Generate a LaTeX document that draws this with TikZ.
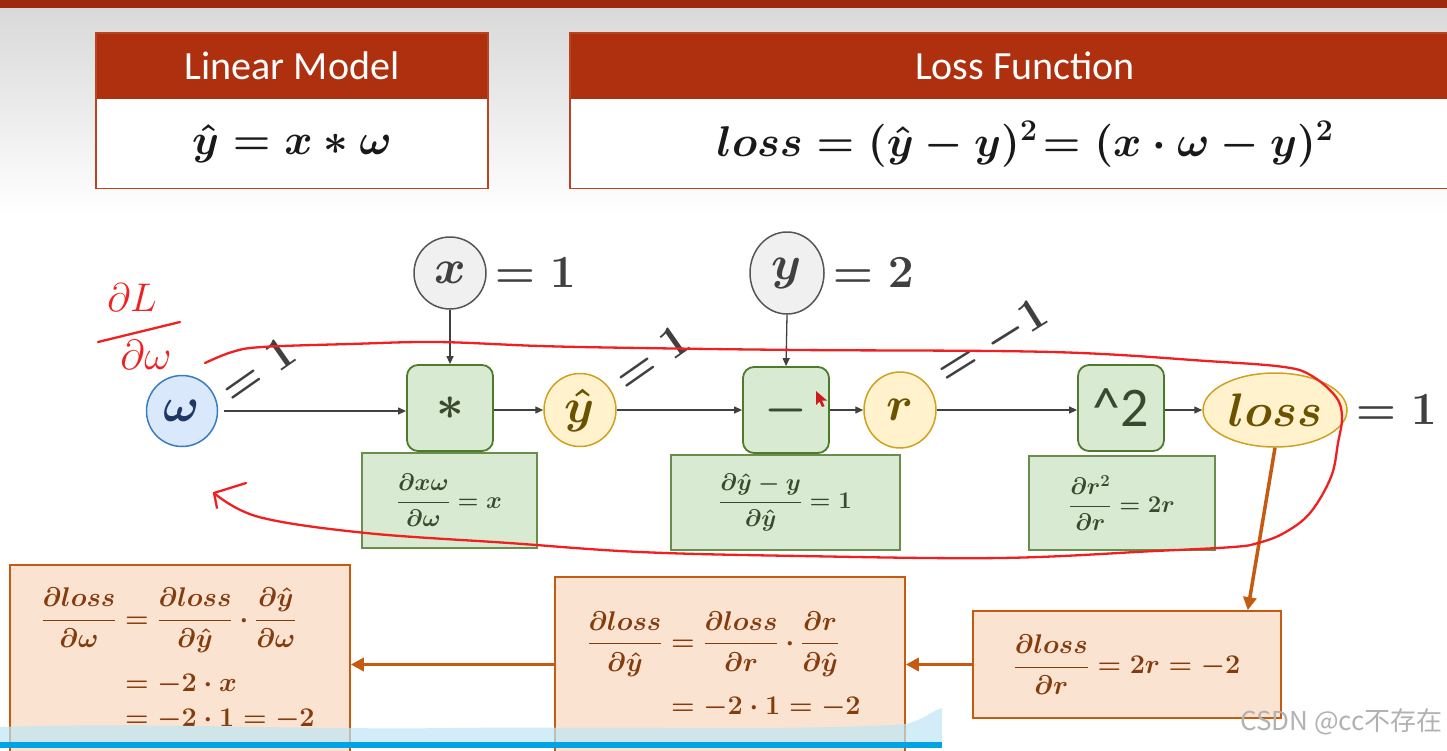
\RequirePackage{fix-cm}
\documentclass[tikz,border=0pt]{standalone}
\usepackage{amsmath}
\usepackage{fontspec}
\newfontfamily\carlito{Carlito}
\newfontfamily\cjk{Noto Sans CJK SC}
\usetikzlibrary{arrows.meta,shapes.geometric,calc}
\definecolor{topbar}{HTML}{9C2A0C}
\definecolor{hdr}{HTML}{AE300F}
\definecolor{hdrborder}{HTML}{B8451F}
\definecolor{gfill}{HTML}{D9EAD3}
\definecolor{gborder}{HTML}{4F7A2C}
\definecolor{gtext}{HTML}{3A4A30}
\definecolor{ofill}{HTML}{FBE3D2}
\definecolor{oborder}{HTML}{C55A11}
\definecolor{otext}{HTML}{843C0C}
\definecolor{yfill}{HTML}{FFF2CC}
\definecolor{yborder}{HTML}{D0A020}
\definecolor{ytext}{HTML}{6B5200}
\definecolor{bfill}{HTML}{DAE8FC}
\definecolor{bborder}{HTML}{3A7CC2}
\definecolor{btext}{HTML}{1F3864}
\definecolor{cfill}{HTML}{F0F0F0}
\definecolor{cborder}{HTML}{555555}
\definecolor{ink}{HTML}{404040}
\definecolor{pen}{HTML}{F02020}
\definecolor{pbar}{HTML}{00A4E4}
\definecolor{pband}{HTML}{BFE6F5}
\tikzset{
  hdrbox/.style={rectangle, fill=hdr, text=white, inner sep=0pt,
    font=\carlito\fontsize{40}{42}\selectfont},
  bodybox/.style={rectangle, fill=white, inner sep=0pt, text=black!90,
    font=\fontsize{43}{46}\selectfont\boldmath},
  cnode/.style={circle, draw=cborder, fill=cfill, line width=1.5pt, inner sep=0pt,
    minimum size=72pt, text=ink, font=\fontsize{48}{50}\selectfont\boldmath},
  bnode/.style={circle, draw=bborder, fill=bfill, line width=1.5pt, inner sep=0pt,
    minimum size=71pt, text=btext, font=\fontsize{48}{50}\selectfont\boldmath},
  ynode/.style={ellipse, draw=yborder, fill=yfill, line width=1.5pt, inner sep=0pt,
    text=ytext, font=\fontsize{48}{50}\selectfont\boldmath},
  opbox/.style={rectangle, rounded corners=11pt, draw=gborder, fill=gfill, line width=1.8pt,
    minimum width=86pt, minimum height=86pt, inner sep=0pt, text=gtext,
    font=\fontsize{48}{50}\selectfont\boldmath},
  dbox/.style={rectangle, draw=gborder!85, fill=gfill, line width=1.4pt, inner sep=0pt,
    text=gtext, font=\fontsize{24}{28}\selectfont\boldmath},
  obox/.style={rectangle, draw=oborder, fill=ofill, line width=1.6pt, inner sep=0pt,
    text=otext, font=\fontsize{27}{32}\selectfont\boldmath},
  otxt/.style={inner sep=0pt, text=otext, font=\fontsize{27}{32}\selectfont\boldmath},
  val/.style={inner sep=0pt, text=ink, font=\fontsize{46}{48}\selectfont\boldmath},
  flow/.style={draw=ink, line width=1.3pt, -{Triangle[length=8pt,width=7pt]}},
  back/.style={draw=oborder, line width=3.5pt, -{Triangle[length=13pt,width=13pt]}},
  penline/.style={draw=pen, line width=2.3pt, line cap=round, line join=round},
}
\begin{document}
\begin{tikzpicture}[x=1pt,y=-1pt]
\useasboundingbox (0,0) rectangle (1447,750);
\fill[white] (0,0) rectangle (1447,750);
\shade[top color=gray!30, bottom color=white] (0,8) rectangle (1447,215);
\fill[topbar] (0,0) rectangle (1447,8);

% header boxes
\node[hdrbox, minimum width=392pt, minimum height=66pt] (lmh) at (292,66) {Linear Model};
\node[bodybox, minimum width=392pt, minimum height=89pt, anchor=north] (lmb) at (lmh.south) {$\hat{y} = x \ast \omega$};
\draw[hdrborder, line width=1.5pt] (lmh.north west) rectangle (lmb.south east);

\node[hdrbox, minimum width=910pt, minimum height=66pt] (lfh) at (1025,66) {Loss Function};
\node[bodybox, minimum width=910pt, minimum height=89pt, anchor=north] (lfb) at (lfh.south) {$loss = (\hat{y} - y)^2\!= (x \cdot \omega - y)^2$};
\draw[hdrborder, line width=1.5pt] (lfh.north west) rectangle (lfb.south east);

% computation graph
\node[bnode] (w) at (182,411) {$\omega$};
\node[cnode] (x) at (450,273) {$x$};
\node[val, anchor=west] (xv) at ([xshift=8pt]x.east) {$=1$};
\node[ynode, minimum width=74pt, minimum height=82pt, draw=cborder, fill=cfill, text=ink] (y) at (787,273) {$y$};
\node[val, anchor=west] (yv) at ([xshift=8pt]y.east) {$=2$};
\node[opbox] (mul) at (450,408) {$\ast$};
\node[ynode, minimum width=72pt, minimum height=73pt] (yh) at (580,410) {$\hat{y}$};
\node[opbox] (sub) at (786,410) {$-$};
\node[ynode, minimum width=72pt, minimum height=76pt] (r) at (900,410) {$r$};
\node[opbox, font=\carlito\fontsize{56}{58}\selectfont] (sq) at (1121,408) {\textasciicircum 2};
\node[ynode, minimum width=144pt, minimum height=74pt, font=\fontsize{47}{49}\selectfont\boldmath] (loss) at (1275,410) {$loss$};
\node[val, anchor=west] (lossv) at ([xshift=8pt]loss.east) {$=1$};

\node[val, rotate=35] (wv) at (258,370) {$=1$};
\node[val, rotate=35] (yhv) at (652,358) {$=1$};
\node[val, rotate=32] (rv) at (993,343) {$=-1$};

\node[dbox, minimum width=175pt, minimum height=95pt] (d1) at (449.5,500.5) {$\dfrac{\partial x\omega}{\partial\omega} = x$};
\node[dbox, minimum width=229pt, minimum height=95pt] (d2) at (785.5,502.5) {$\dfrac{\partial \hat{y} - y}{\partial\hat{y}} = 1$};
\node[dbox, minimum width=186pt, minimum height=94pt] (d3) at (1122,503) {$\dfrac{\partial r^2}{\partial r} = 2r$};

\draw[flow, shorten <=6pt] (w.east) -- (mul.west |- w.east);
\draw[flow] (mul.east |- yh.west) -- (yh.west);
\draw[flow] (yh.east) -- (sub.west |- yh.east);
\draw[flow] (sub.east |- r.west) -- (r.west);
\draw[flow] (r.east) -- (sq.west |- r.east);
\draw[flow] (sq.east |- loss.west) -- (loss.west);
\draw[flow] (x.south) -- (mul.north);
\draw[flow] (y.south) -- (sub.north);

% backward boxes
\node[obox, minimum width=308pt, minimum height=107pt] (b1) at (1127,664.5) {$\dfrac{\partial loss}{\partial r} = 2r = -2$};
\node[obox, minimum width=350pt, minimum height=183pt] (b2) at (730,668.5) {};
\node[otxt] (t2) at (724,668) {$\begin{aligned}\dfrac{\partial loss}{\partial\hat{y}} &= \dfrac{\partial loss}{\partial r}\cdot\dfrac{\partial r}{\partial\hat{y}}\\[12pt] &= -2\cdot 1 = -2\end{aligned}$};
\node[obox, minimum width=340pt, minimum height=195pt] (b3) at (180,662.5) {};
\node[otxt] (t3) at (178,662) {$\begin{aligned}\dfrac{\partial loss}{\partial\omega} &= \dfrac{\partial loss}{\partial\hat{y}}\cdot\dfrac{\partial\hat{y}}{\partial\omega}\\[12pt] &= -2\cdot x\\[0pt] &= -2\cdot 1 = -2\end{aligned}$};

\coordinate (b1in) at ($(b1.north west)!0.89!(b1.north east)$);
\draw[back] (loss.south) -- (b1in);
\draw[back] (b1.west) -- (b1.west -| b2.east);
\draw[back] (b2.west |- b1.west) -- (b3.east |- b1.west);

% handwritten annotations
\draw[penline] plot[smooth, tension=0.6] coordinates {(205,363) (232,352) (262,347) (350,344) (437,342) (540,346) (640,348) (800,350) (1052,352) (1207,361) (1284,367) (1312,376) (1336,397) (1342,417) (1338,443) (1331,477) (1310,513) (1284,533) (1258,543) (1233,547) (1155,551) (1000,558) (800,556) (640,552) (509,543) (366,533) (259,517) (214,493)};
\draw[penline] (246,483) -- (214,493) -- (217,508);
\node[inner sep=0pt, text=pen, font=\fontsize{40}{42}\selectfont] (hL) at (132,298) {$\partial L$};
\draw[penline] (98,342) -- (180,322);
\node[inner sep=0pt, text=pen, font=\fontsize{42}{44}\selectfont] (hw) at (146,355) {$\partial\omega$};
% mouse pointer
\fill[pen!85!black] (816,391) -- (816,405) -- (819.5,401.5) -- (822,407) -- (824.5,406) -- (822,400.5) -- (827,400.5) -- cycle;

% player overlay
\fill[pband, opacity=0.7] (0,742) -- (0,727) .. controls (150,722) and (300,730) .. (450,728) .. controls (650,726) and (800,731) .. (905,724) .. controls (925,720) and (932,710) .. (942,708) -- (942,742) -- cycle;
\fill[pbar] (0,742) rectangle (942,748);
\node[inner sep=0pt, text=gray!60, font=\cjk\fontsize{26}{28}\selectfont, anchor=east] (wm) at (1443,722) {CSDN @cc不存在};
\end{tikzpicture}
\end{document}
